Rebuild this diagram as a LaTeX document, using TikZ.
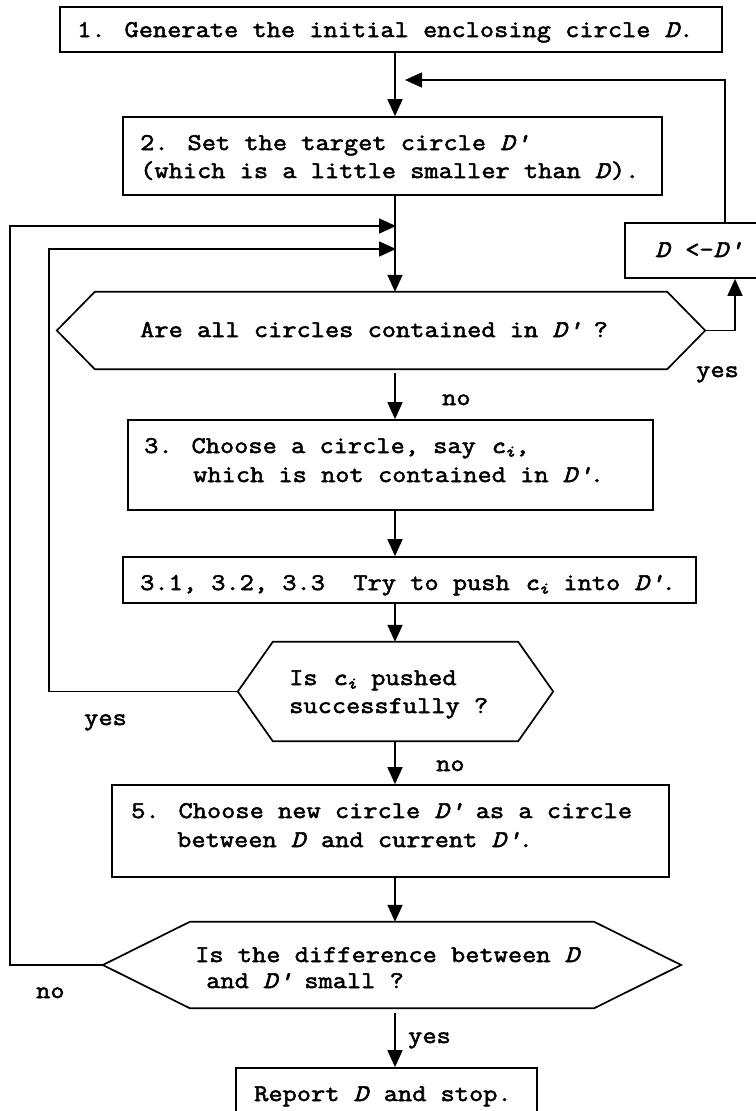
\documentclass[tikz,border=0pt]{standalone}
\usepackage{fontspec}
\setmainfont{Latin Modern Mono}[FakeStretch=1.15, FakeBold=2.2]
\usetikzlibrary{arrows.meta}

% draw a horizontal hexagon around an (invisible) rectangular node
\newcommand\hexframe[2]{%
  \draw[flow] (#1.west) -- ([xshift=#2]#1.north west) -- ([xshift=-#2]#1.north east)
    -- (#1.east) -- ([xshift=-#2]#1.south east) -- ([xshift=#2]#1.south west) -- cycle;}
% italic symbols
\newcommand\Dp{\textit{D\textquotesingle}}
\newcommand\Dd{\textit{D}}
\newcommand\ci{\textit{c}\textsubscript{\textit{i}}}

\begin{document}
\begin{tikzpicture}[x=1pt,y=-1pt,
  flow/.style={line width=1.7pt, line join=miter},
  arr/.style={flow, -{Triangle[length=17pt,width=15pt]}},
  stepbox/.style={draw, line width=1.7pt, inner sep=0pt},
  hexnode/.style={draw=none, inner sep=0pt},
  txt/.style={anchor=base west, inner sep=0pt, font=\fontsize{24}{28}\selectfont},
  lbl/.style={txt}]
\useasboundingbox (0,0) rectangle (755,1111);
\fill[white] (0,0) rectangle (755,1111);

% helper positions
\coordinate (spine) at (395,0);
\coordinate (outer) at (10,0);
\coordinate (inner) at (49,0);
\coordinate (in1) at (396,226);
\coordinate (in2) at (396,249);
\coordinate (fb) at (405,80);

% process boxes
\node[stepbox, minimum width=662pt, minimum height=45pt] (b1) at (391,29.5) {};
\node[stepbox, minimum width=539pt, minimum height=78pt] (b2) at (392.5,156) {};
\node[stepbox, minimum width=200pt, minimum height=55pt] (upd) at (725,250.5) {};
\node[stepbox, minimum width=525pt, minimum height=90pt] (b3) at (390.5,465) {};
\node[stepbox, minimum width=573pt, minimum height=46pt] (b31) at (409.5,580) {};
\node[stepbox, minimum width=557pt, minimum height=92pt] (b5) at (390.5,831) {};
\node[stepbox, minimum width=301pt, minimum height=57pt] (fin) at (386.5,1096.5) {};

% decisions
\node[hexnode, minimum width=648pt, minimum height=77pt] (h1) at (381,330.5) {};
\node[hexnode, minimum width=315pt, minimum height=99pt] (h2) at (395.5,691.5) {};
\node[hexnode, minimum width=578pt, minimum height=86pt] (h3) at (392,965) {};
\hexframe{h1}{38}
\hexframe{h2}{35}
\hexframe{h3}{87}

% texts
\node[txt] (t1) at (77,37) {1. Generate the initial enclosing circle \Dd.};
\node[txt] (t2a) at (140,150) {2. Set the target circle \Dp};
\node[txt] (t2b) at (140,178) {(which is a little smaller than \Dd).};
\node[txt] (tu) at (655,257) {\Dd{} <-\Dp};
\node[txt] (th1) at (140,337) {Are all circles contained in \Dp{} ?};
\node[txt] (t3a) at (144,453) {3. Choose a circle, say \ci,};
\node[txt] (t3b) at (193,482) {which is not contained in \Dp.};
\node[txt] (t31) at (140,590) {3.1, 3.2, 3.3\ \ Try to push \ci{} into \Dp.};
\node[txt] (th2a) at (289,685) {Is \ci{} pushed};
\node[txt] (th2b) at (289,713) {successfully ?};
\node[txt] (t5a) at (131,818) {5. Choose new circle \Dp{} as a circle};
\node[txt] (t5b) at (177,847) {between \Dd{} and current \Dp.};
\node[txt] (th3a) at (195,962) {Is the difference between \Dd};
\node[txt] (th3b) at (206,988) {and \Dp{} small ?};
\node[txt] (tf) at (254,1101) {Report \Dd{} and stop.};

% branch labels
\node[lbl] (yes1) at (696,377) {yes};
\node[lbl] (no1) at (442,405) {no};
\node[lbl] (yes2) at (84,725) {yes};
\node[lbl] (no2) at (436,771) {no};
\node[lbl] (no3) at (36,998) {no};
\node[lbl] (yes3) at (408,1043) {yes};

% connectors
\draw[arr] (b1.south -| spine) -- (b2.north -| spine);
\draw[arr] (upd.north) |- (fb);
\draw[arr] (b2.south -| spine) -- (h1.north -| spine);
\draw[arr] (h1.east) -| ([xshift=10pt]upd.south);
\draw[arr, shorten <=4pt] (h1.south -| spine) -- (b3.north -| spine);
\draw[arr] (b3.south -| spine) -- (b31.north -| spine);
\draw[arr] (b31.south -| spine) -- (h2.north -| spine);
\draw[arr] (h2.south -| spine) -- (b5.north -| spine);
\draw[arr] (b5.south -| spine) -- (h3.north -| spine);
\draw[arr, shorten <=5pt] (h3.south -| spine) -- (fin.north -| spine);
\draw[arr] (h2.west) -- (h2.west -| inner) |- (in2);
\draw[arr] (h3.west) -- (h3.west -| outer) |- (in1);
\end{tikzpicture}
\end{document}
